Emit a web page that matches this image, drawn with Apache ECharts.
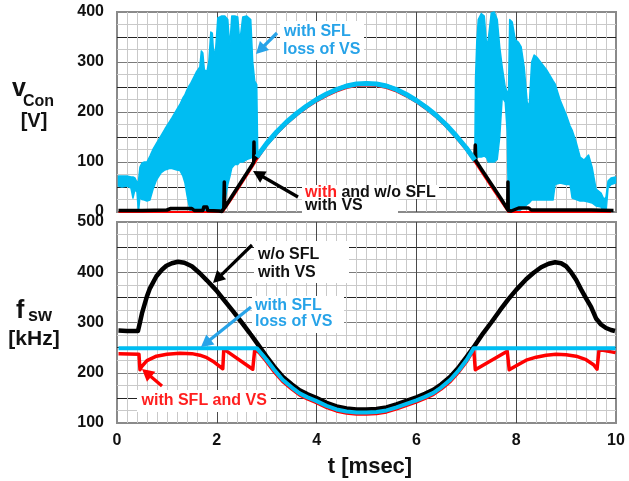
<!DOCTYPE html>
<html>
<head>
<meta charset="utf-8">
<script src="https://cdn.jsdelivr.net/npm/echarts@6/dist/echarts.min.js"></script>
<style>
  html, body { margin: 0; padding: 0; background: #ffffff; }
  #chart { width: 629px; height: 481px; }
</style>
</head>
<body>
<div id="chart"></div>
<script>
// ---------- time axis [msec] ----------
const tTicks = [0, 2, 4, 6, 8, 10];

// ---------- upper panel: vCon [V] ----------
// with SFL and VS (red)
const vConRed = [
  [0.03, 0], [2.12, 0], [2.3, 26], [2.5, 57], [2.7, 88], [2.8, 104], [3.0, 133], [3.2, 156],
  [3.4, 176], [3.6, 193], [3.8, 208], [4.0, 221], [4.2, 232], [4.4, 241], [4.6, 248], [4.8, 252],
  [5.0, 253], [5.2, 252], [5.4, 248], [5.6, 241], [5.8, 231], [6.0, 219], [6.2, 205], [6.4, 189],
  [6.6, 170], [6.8, 148], [7.0, 124], [7.17, 100], [7.5, 50], [7.84, 0], [9.9, 0]
];
// w/o SFL, with VS (black)
const vConBlack = [
  [0.03, 3], [0.5, 3], [1.0, 4], [1.08, 7], [1.5, 7], [1.55, 3], [1.72, 3], [1.74, 10], [1.8, 10],
  [1.82, 3], [2.05, 2], [2.1, 1], [2.14, 7], [2.15, 60], [2.16, 9], [2.3, 31], [2.5, 62], [2.7, 93],
  [2.74, 100], [2.745, 140], [2.75, 104], [2.8, 110], [3.0, 137], [3.2, 160], [3.4, 180], [3.6, 197],
  [3.8, 212], [4.0, 225], [4.2, 236], [4.4, 245], [4.6, 252], [4.8, 256], [5.0, 257], [5.2, 256],
  [5.4, 252], [5.6, 245], [5.8, 235], [6.0, 223], [6.2, 209], [6.4, 193], [6.6, 174], [6.8, 152],
  [7.0, 128], [7.17, 104], [7.18, 134], [7.19, 103], [7.3, 86], [7.5, 56], [7.7, 26], [7.83, 5],
  [7.835, 60], [7.84, 3], [7.9, 2], [8.05, 8], [8.25, 8], [8.3, 4], [9.5, 4], [9.95, 3]
];
// with SFL, loss of VS (cyan): smooth part between the oscillating intervals
const vConCyanArc = [
  [2.8, 110], [3.0, 137], [3.2, 160], [3.4, 180], [3.6, 197], [3.8, 212], [4.0, 225], [4.2, 236],
  [4.4, 245], [4.6, 252], [4.8, 256], [5.0, 257], [5.2, 256], [5.4, 252], [5.6, 245], [5.8, 235],
  [6.0, 223], [6.2, 209], [6.4, 193], [6.6, 174], [6.8, 152], [7.0, 128], [7.17, 104]
];
// oscillating intervals: [t, lower envelope, upper envelope]
const vConCyanBandA = [
  [0.03, 52, 72], [0.1, 50, 72], [0.2, 52, 72], [0.28, 48, 70], [0.32, 28, 70], [0.36, 45, 68],
  [0.4, 40, 60], [0.43, 0, 62], [0.46, 30, 90], [0.5, 25, 98], [0.55, 24, 100], [0.6, 22, 100],
  [0.66, 24, 112], [0.72, 45, 125], [0.79, 64, 137], [0.88, 78, 152], [0.96, 84, 166],
  [1.05, 87, 180], [1.1, 87, 188], [1.2, 84, 205], [1.26, 83, 215], [1.32, 72, 228], [1.36, 59, 234],
  [1.4, 35, 244], [1.43, 20, 250], [1.47, 0, 256], [1.59, 0, 280], [1.66, 0, 290], [1.69, 0, 322],
  [1.72, 0, 318], [1.75, 0, 285], [1.8, 0, 280], [1.84, 0, 300], [1.88, 0, 360], [1.91, 0, 358],
  [1.94, 0, 310], [1.98, 0, 330], [2.02, 0, 388], [2.1, 0, 392], [2.16, 20, 392], [2.22, 55, 385],
  [2.26, 70, 330], [2.3, 88, 392], [2.36, 95, 392], [2.42, 95, 390], [2.46, 100, 340],
  [2.52, 100, 390], [2.6, 105, 392], [2.68, 108, 385], [2.72, 110, 300], [2.76, 112, 262],
  [2.8, 112, 255], [2.82, 113, 118]
];
const vConCyanBandB = [
  [7.17, 104, 106], [7.185, 104, 268], [7.21, 108, 340], [7.24, 110, 385], [7.3, 110, 397],
  [7.36, 112, 392], [7.41, 108, 330], [7.44, 100, 345], [7.5, 100, 398], [7.56, 100, 400],
  [7.62, 105, 385], [7.67, 150, 330], [7.72, 230, 290], [7.78, 220, 250], [7.82, 160, 240],
  [7.845, 0, 235], [7.87, 0, 385], [7.92, 0, 380], [7.98, 0, 345], [8.04, 0, 340], [8.1, 5, 330],
  [8.16, 10, 290], [8.22, 15, 220], [8.26, 18, 210], [8.31, 24, 300], [8.36, 24, 314],
  [8.41, 24, 310], [8.61, 24, 284], [8.74, 24, 262], [8.78, 55, 256], [8.88, 58, 224],
  [9.0, 55, 195], [9.08, 55, 172], [9.12, 28, 164], [9.2, 25, 140], [9.28, 22, 110],
  [9.36, 22, 104], [9.45, 20, 114], [9.52, 18, 90], [9.6, 12, 46], [9.7, 10, 38], [9.76, 0, 25],
  [9.8, 0, 30], [9.84, 48, 62], [9.9, 55, 68], [9.99, 58, 70]
];

// ---------- lower panel: fsw [kHz] ----------
const fswBlack = [
  [0.03, 284], [0.2, 283], [0.42, 283], [0.46, 300], [0.5, 318], [0.55, 335], [0.6, 352],
  [0.66, 368], [0.79, 392], [0.9, 405], [0.99, 413], [1.1, 418], [1.22, 421], [1.35, 419],
  [1.5, 412], [1.66, 398], [1.8, 384], [1.99, 364], [2.15, 344], [2.32, 323], [2.5, 300],
  [2.66, 279], [2.82, 257], [2.99, 233], [3.15, 212], [3.32, 192], [3.5, 177], [3.66, 165],
  [3.82, 157], [3.99, 150], [4.2, 140], [4.4, 133], [4.6, 129], [4.8, 127], [5.0, 127],
  [5.2, 128], [5.4, 131], [5.6, 137], [5.8, 144], [6.0, 151], [6.17, 158], [6.34, 166],
  [6.5, 177], [6.68, 192], [6.85, 211], [7.01, 232], [7.17, 254], [7.34, 279], [7.5, 300],
  [7.68, 325], [7.84, 346], [8.0, 365], [8.2, 386], [8.35, 399], [8.5, 410], [8.65, 417],
  [8.78, 420], [8.9, 418], [9.0, 412], [9.1, 400], [9.2, 385], [9.3, 366], [9.4, 348],
  [9.5, 331], [9.6, 308], [9.7, 296], [9.8, 289], [9.9, 285], [9.98, 283]
];
const fswCyan = [
  [0.03, 249], [2.8, 249], [2.99, 227], [3.15, 206], [3.32, 186], [3.5, 171], [3.66, 159],
  [3.82, 151], [3.99, 144], [4.2, 134], [4.4, 127], [4.6, 123], [4.8, 121], [5.0, 121],
  [5.2, 122], [5.4, 125], [5.6, 131], [5.8, 138], [6.0, 145], [6.17, 152], [6.34, 160],
  [6.5, 171], [6.68, 186], [6.85, 205], [7.01, 226], [7.15, 249], [9.99, 249]
];
const fswRed = [
  [0.03, 238], [0.44, 237], [0.46, 206], [0.5, 213], [0.6, 224], [0.79, 233], [1.0, 237],
  [1.26, 239], [1.5, 238], [1.66, 235], [1.8, 230], [1.92, 223], [2.12, 208], [2.14, 247],
  [2.72, 207], [2.76, 246], [2.85, 240], [2.99, 223], [3.15, 202], [3.32, 183], [3.5, 168],
  [3.66, 156], [3.82, 148], [3.99, 141], [4.2, 131], [4.4, 124], [4.6, 120], [4.8, 118],
  [5.0, 118], [5.2, 119], [5.4, 122], [5.6, 128], [5.8, 135], [6.0, 142], [6.17, 149],
  [6.34, 157], [6.5, 168], [6.68, 183], [6.85, 202], [7.01, 223], [7.15, 246], [7.18, 206],
  [7.82, 243], [7.86, 206], [8.0, 214], [8.2, 225], [8.4, 231], [8.6, 235], [8.8, 237],
  [9.0, 236], [9.2, 233], [9.4, 226], [9.55, 216], [9.62, 207], [9.66, 246], [9.99, 240]
];

// ---------- styling ----------
const FONT = '"Liberation Sans", Arial, Helvetica, sans-serif';
const CYAN = '#00bdf2';
const CYAN_TEXT = '#27a3e8';
const RED = '#ff0000';
const RED_TEXT = '#ff1f1f';
const BLACK = '#000000';

function xAxisFor(gridIndex, showLabels) {
  return {
    type: 'value', gridIndex, min: tTicks[0], max: tTicks[tTicks.length - 1], interval: 2,
    axisLine: { show: false }, axisTick: { show: false },
    axisLabel: {
      show: showLabels, margin: 10, color: '#111', fontFamily: FONT, fontWeight: 'bold', fontSize: 16
    },
    splitLine: { show: true, showMinLine: false, showMaxLine: false, lineStyle: { color: '#4a4a4a', width: 1 } },
    minorTick: { show: false, splitNumber: 10 },
    minorSplitLine: { show: true, lineStyle: { color: '#c9c9c9', width: 1 } }
  };
}
function yAxisFor(gridIndex, min, max) {
  return {
    type: 'value', gridIndex, min, max, interval: 50,
    axisLine: { show: false }, axisTick: { show: false },
    axisLabel: {
      formatter: v => (v % 100 === 0 ? String(v) : ''),
      margin: 13, color: '#111', fontFamily: FONT, fontWeight: 'bold', fontSize: 16
    },
    splitLine: { show: true, showMinLine: false, showMaxLine: false, lineStyle: { color: ['#222222', '#7a7a7a'], width: 1 } },
    minorTick: { show: false, splitNumber: 2 },
    minorSplitLine: { show: true, lineStyle: { color: '#c9c9c9', width: 1 } }
  };
}
function lineSeries(data, gi, color, width) {
  return {
    type: 'line', xAxisIndex: gi, yAxisIndex: gi, data, showSymbol: false, symbol: 'none',
    silent: true, animation: false, lineStyle: { color, width, join: 'round' }
  };
}
// filled envelope between lower and upper bounds of an oscillating interval
function bandSeries(band, gi, color) {
  return {
    type: 'custom', xAxisIndex: gi, yAxisIndex: gi, silent: true, animation: false,
    data: [[band[0][0], band[0][1]]],
    renderItem: function (params, api) {
      const upper = band.map(p => api.coord([p[0], p[2]]));
      const lower = band.slice().reverse().map(p => api.coord([p[0], p[1]]));
      return {
        type: 'polygon',
        shape: { points: upper.concat(lower) },
        style: { fill: color, stroke: color, lineWidth: 1.5, lineJoin: 'round' }
      };
    }
  };
}

// ---------- annotation helpers ----------
function txt(text, x, y, color, size, extra) {
  return Object.assign({
    type: 'text', z: 100,
    style: { text, x, y, fill: color, font: 'bold ' + size + 'px ' + FONT, align: 'left', verticalAlign: 'middle' }
  }, extra || {});
}
function whiteBox(x, y, w, h) {
  return { type: 'rect', z: 99, shape: { x, y, width: w, height: h }, style: { fill: '#ffffff' } };
}
function arrow(x1, y1, x2, y2, color) {
  const dx = x2 - x1, dy = y2 - y1, len = Math.hypot(dx, dy);
  const ux = dx / len, uy = dy / len, px = -uy, py = ux;
  const hl = 12, hw = 6.5;
  const bx = x2 - ux * hl, by = y2 - uy * hl;
  return {
    type: 'group', z: 101,
    children: [
      { type: 'line', z: 101, shape: { x1, y1, x2: bx + ux * 2, y2: by + uy * 2 }, style: { stroke: color, lineWidth: 3.2 } },
      { type: 'polygon', z: 101, shape: { points: [[x2, y2], [bx + px * hw, by + py * hw], [bx - px * hw, by - py * hw]] }, style: { fill: color } }
    ]
  };
}

const chart = echarts.init(document.getElementById('chart'), null, { renderer: 'canvas' });
chart.setOption({
  animation: false,
  backgroundColor: '#ffffff',
  grid: [
    { left: 117, top: 12, width: 499, height: 200, show: true, borderColor: '#8a8a8a', borderWidth: 2, backgroundColor: 'transparent' },
    { left: 117, top: 222, width: 499, height: 201, show: true, borderColor: '#8a8a8a', borderWidth: 2, backgroundColor: 'transparent' }
  ],
  xAxis: [xAxisFor(0, false), xAxisFor(1, true)],
  yAxis: [yAxisFor(0, 0, 400), yAxisFor(1, 100, 500)],
  series: [
    lineSeries(vConRed, 0, RED, 2),
    bandSeries(vConCyanBandA, 0, CYAN),
    bandSeries(vConCyanBandB, 0, CYAN),
    lineSeries(vConBlack, 0, BLACK, 3.5),
    lineSeries(vConCyanArc, 0, CYAN, 5),
    lineSeries(fswRed, 1, RED, 3.5),
    lineSeries(fswBlack, 1, BLACK, 4.5),
    lineSeries(fswCyan, 1, CYAN, 4)
  ],
  graphic: [
    // axis titles
    txt('v', 12, 89.5, '#111', 25),
    txt('Con', 23, 101.5, '#111', 16),
    txt('[V]', 34, 121.5, '#111', 20, { style: { text: '[V]', x: 34, y: 121.5, fill: '#111', font: 'bold 20px ' + FONT, align: 'center', verticalAlign: 'middle' } }),
    txt('f', 16, 311.5, '#111', 25),
    txt('sw', 28, 316.5, '#111', 18),
    { type: 'text', z: 100, style: { text: '[kHz]', x: 34, y: 339, fill: '#111', font: 'bold 21px ' + FONT, align: 'center', verticalAlign: 'middle' } },
    { type: 'text', z: 100, style: { text: 't [msec]', x: 370, y: 467, fill: '#111', font: 'bold 22px ' + FONT, align: 'center', verticalAlign: 'middle' } },

    // upper panel annotations
    whiteBox(280, 21, 84, 39),
    txt('with SFL', 284, 31.5, CYAN_TEXT, 16),
    txt('loss of VS', 283, 49.5, CYAN_TEXT, 16),
    arrow(277, 33, 256, 54, CYAN_TEXT),

    whiteBox(302, 185, 137, 14),
    whiteBox(302, 199, 96, 16),
    { type: 'text', z: 100, style: {
        text: '{r|with} and w/o SFL', x: 305, y: 192.7, fill: '#111', font: 'bold 16px ' + FONT,
        align: 'left', verticalAlign: 'middle',
        rich: { r: { fill: RED_TEXT, font: 'bold 16px ' + FONT } }
    } },
    txt('with VS', 305, 205.3, '#111', 16),
    arrow(298, 197, 253, 171, BLACK),

    // lower panel annotations
    whiteBox(254, 241, 95, 42),
    txt('w/o SFL', 258, 254.4, '#111', 16),
    txt('with VS', 258, 272.4, '#111', 16),
    arrow(252, 245, 213, 283, BLACK),

    whiteBox(252, 296, 92, 37),
    txt('with SFL', 255, 306, CYAN_TEXT, 16),
    txt('loss of VS', 255, 321.7, CYAN_TEXT, 16),
    arrow(251, 307, 201, 347, CYAN_TEXT),

    whiteBox(137, 390, 134, 22),
    txt('with SFL and VS', 141.5, 401, RED_TEXT, 16),
    arrow(162, 386, 142, 369, RED)
  ]
});
</script>
</body>
</html>
